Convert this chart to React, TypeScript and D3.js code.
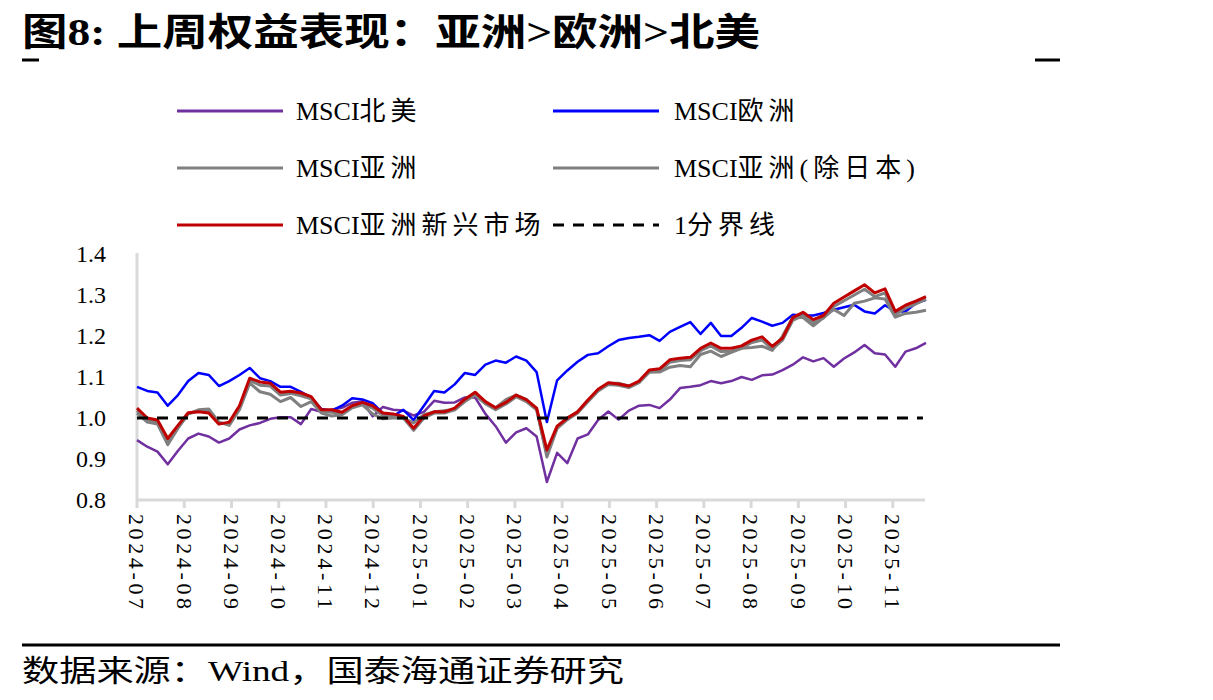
import React, { useEffect, useRef } from 'react';
import * as d3 from 'd3';

// month labels on the category axis (one label every ~21 trading days)
const monthLabels = [
  '2024-07', '2024-08', '2024-09', '2024-10', '2024-11', '2024-12',
  '2025-01', '2025-02', '2025-03', '2025-04', '2025-05', '2025-06',
  '2025-07', '2025-08', '2025-09', '2025-10', '2025-11'
];
// samples per month label
const samplesPerLabel = 4.61;

// weekly-ish samples (78 points)
const northAmerica = [
  0.946, 0.93, 0.918, 0.887, 0.92, 0.95, 0.962, 0.955, 0.94, 0.95,
  0.972, 0.982, 0.988, 0.998, 1.002, 1.002, 0.985, 1.022, 1.015, 1.02,
  1.025, 1.037, 1.04, 1.004, 1.027, 1.02, 1.018, 1.006, 1.015, 1.042,
  1.037, 1.038, 1.05, 1.05, 1.01, 0.98, 0.94, 0.965, 0.975, 0.955,
  0.844, 0.915, 0.89, 0.95, 0.96, 0.995, 1.016, 0.996, 1.018, 1.03,
  1.032, 1.024, 1.045, 1.073, 1.076, 1.08, 1.09, 1.085, 1.09, 1.1,
  1.093, 1.104, 1.106, 1.117, 1.13, 1.148, 1.138, 1.146, 1.125, 1.145,
  1.16, 1.178, 1.158, 1.155, 1.125, 1.162, 1.17, 1.183
];
const europe = [
  1.076, 1.066, 1.062, 1.03, 1.056, 1.09, 1.11, 1.105, 1.078, 1.09,
  1.105, 1.122, 1.097, 1.09, 1.076, 1.076, 1.064, 1.05, 1.022, 1.018,
  1.03, 1.048, 1.045, 1.036, 1.012, 1.005, 1.02, 0.995, 1.03, 1.066,
  1.062, 1.082, 1.11, 1.105, 1.13, 1.14, 1.135, 1.15, 1.14, 1.112,
  0.99, 1.092, 1.116, 1.137, 1.154, 1.158, 1.175, 1.19, 1.195, 1.198,
  1.202, 1.188, 1.21, 1.222, 1.234, 1.205, 1.232, 1.2, 1.2, 1.22,
  1.244, 1.235, 1.225, 1.232, 1.252, 1.25, 1.25, 1.256, 1.264, 1.27,
  1.276, 1.26, 1.255, 1.275, 1.26, 1.26, 1.28, 1.288
];
const asia = [
  1.012, 0.99, 0.985, 0.935, 0.975, 1.01, 1.02, 1.022, 0.99, 0.982,
  1.02, 1.085, 1.064, 1.058, 1.04, 1.05, 1.028, 1.04, 1.012, 1.005,
  1.008, 1.025, 1.032, 1.01, 0.998, 1.0, 1.0, 0.988, 1.008, 1.015,
  1.018, 1.02, 1.04, 1.056, 1.035, 1.025, 1.045, 1.056, 1.045, 1.022,
  0.905, 0.975, 1.0, 1.015, 1.04, 1.068, 1.085, 1.085, 1.078, 1.088,
  1.112, 1.112, 1.124, 1.128, 1.125, 1.155, 1.163, 1.15, 1.16, 1.17,
  1.172, 1.175, 1.165, 1.2, 1.246, 1.245, 1.225, 1.245, 1.265, 1.25,
  1.28, 1.285, 1.293, 1.29, 1.246, 1.255, 1.258, 1.263
];
const asiaExJapan = [
  1.018, 0.995, 0.99, 0.94, 0.976, 1.01, 1.017, 1.015, 0.988, 0.986,
  1.025, 1.092, 1.08, 1.078, 1.056, 1.06, 1.054, 1.047, 1.016, 1.014,
  1.01, 1.026, 1.034, 1.024, 1.006, 1.005, 1.0, 0.97, 1.0, 1.012,
  1.012, 1.02, 1.042, 1.058, 1.035, 1.02, 1.034, 1.052, 1.04, 1.02,
  0.912, 0.975, 0.996, 1.012, 1.04, 1.066, 1.082, 1.08, 1.074, 1.086,
  1.112, 1.114, 1.136, 1.14, 1.142, 1.164, 1.176, 1.162, 1.163, 1.17,
  1.184, 1.19, 1.168, 1.19, 1.238, 1.25, 1.232, 1.244, 1.272, 1.286,
  1.3, 1.314, 1.296, 1.305, 1.252, 1.268, 1.278, 1.29
];
const asiaEM = [
  1.024, 1.0, 0.995, 0.95, 0.982, 1.013, 1.015, 1.012, 0.985, 0.99,
  1.03, 1.097, 1.088, 1.085, 1.063, 1.065, 1.061, 1.052, 1.02, 1.02,
  1.014, 1.03, 1.038, 1.03, 1.012, 1.01, 1.004, 0.975, 1.005, 1.015,
  1.015, 1.024, 1.046, 1.063, 1.04, 1.025, 1.038, 1.056, 1.045, 1.024,
  0.922, 0.98, 1.0, 1.015, 1.044, 1.07, 1.086, 1.083, 1.078, 1.09,
  1.117, 1.12, 1.142, 1.146, 1.148, 1.17, 1.183, 1.17, 1.17, 1.176,
  1.19, 1.198, 1.175, 1.195, 1.245, 1.258, 1.24, 1.25, 1.28, 1.295,
  1.31, 1.325, 1.305, 1.315, 1.26, 1.275, 1.285, 1.296
];
const dividerValue = 1.0;
const yTicks = [0.8, 0.9, 1.0, 1.1, 1.2, 1.3, 1.4];

// legend names split into latin prefix + rest
const seriesPrefix = ['MSCI', 'MSCI', 'MSCI', 'MSCI', 'MSCI', '1'];
const seriesRest = ['北美', '欧洲', '亚洲', '亚洲(除日本)', '亚洲新兴市场', '分界线'];

const SERIF = '"Times New Roman", "Liberation Serif", "Noto Sans CJK SC", serif';

export default function App() {
  const ref = useRef<SVGSVGElement>(null);

  useEffect(() => {
    const svg = d3.select(ref.current);
    svg.selectAll('*').remove();

    const n = asiaEM.length;
    const x = d3.scaleLinear().domain([0, n - 1]).range([137, 926]);
    const y = d3.scaleLinear().domain([0.8, 1.4]).range([500, 254]);

    // title
    svg.append('text')
      .attr('x', 22).attr('y', 45)
      .attr('font-family', SERIF).attr('font-weight', 'bold')
      .attr('font-size', 38)
      .attr('textLength', 738).attr('lengthAdjust', 'spacingAndGlyphs')
      .text('图8:  上周权益表现：亚洲>欧洲>北美');

    svg.append('line').attr('x1', 22).attr('x2', 39).attr('y1', 60).attr('y2', 60)
      .attr('stroke', '#000').attr('stroke-width', 3);
    svg.append('line').attr('x1', 1035).attr('x2', 1060).attr('y1', 60).attr('y2', 60)
      .attr('stroke', '#000').attr('stroke-width', 3);

    // legend
    const colors = ['#7030A0', '#0000FF', '#808080', '#7F7F7F', '#C00000', '#000000'];
    const legendPos = [
      { lx: 177, tx: 296, cy: 111 },
      { lx: 553, tx: 674, cy: 111 },
      { lx: 177, tx: 296, cy: 168 },
      { lx: 553, tx: 674, cy: 168 },
      { lx: 177, tx: 296, cy: 225 },
      { lx: 553, tx: 674, cy: 225 }
    ];
    const lg = svg.append('g');
    seriesRest.forEach((name, i) => {
      const p = legendPos[i];
      lg.append('line')
        .attr('x1', p.lx).attr('x2', p.lx + 106).attr('y1', p.cy).attr('y2', p.cy)
        .attr('stroke', colors[i]).attr('stroke-width', 3)
        .attr('stroke-dasharray', i === 5 ? '11,9' : null);
      const t = lg.append('text')
        .attr('x', p.tx).attr('y', p.cy + 9)
        .attr('font-family', SERIF).attr('font-size', 26);
      t.append('tspan').text(seriesPrefix[i]);
      t.append('tspan').attr('letter-spacing', 5).text(name);
    });

    // axes
    const axisColor = '#D9D9D9';
    svg.append('line').attr('x1', 137).attr('x2', 137).attr('y1', 253).attr('y2', 500)
      .attr('stroke', axisColor).attr('stroke-width', 3);
    svg.append('line').attr('x1', 136).attr('x2', 925).attr('y1', 500).attr('y2', 500)
      .attr('stroke', axisColor).attr('stroke-width', 3);

    svg.selectAll('.ytick').data(yTicks).enter().append('text')
      .attr('class', 'ytick')
      .attr('x', 106).attr('y', d => y(d) + 8)
      .attr('text-anchor', 'end')
      .attr('font-family', SERIF).attr('font-size', 24)
      .text(d => d.toFixed(1));

    const xt = svg.selectAll('.xtick').data(monthLabels).enter().append('g')
      .attr('class', 'xtick')
      .attr('transform', (d, i) => `translate(${x(i * samplesPerLabel)},0)`);
    xt.append('line').attr('y1', 500).attr('y2', 508)
      .attr('stroke', axisColor).attr('stroke-width', 3);
    xt.append('text')
      .attr('transform', 'translate(0,514) rotate(90)')
      .attr('dy', '0.35em')
      .attr('font-family', SERIF).attr('font-size', 22)
      .attr('textLength', 95).attr('lengthAdjust', 'spacing')
      .text(d => d);

    // lines
    const line = d3.line<number>().x((d, i) => x(i)).y(d => y(d));
    const series = [northAmerica, europe, asia, asiaExJapan, asiaEM];
    const widths = [2.5, 2.5, 3, 3, 3];
    series.forEach((s, i) => {
      svg.append('path').datum(s)
        .attr('d', line)
        .attr('fill', 'none')
        .attr('stroke', colors[i])
        .attr('stroke-width', widths[i])
        .attr('stroke-linejoin', 'round');
    });

    svg.append('line')
      .attr('x1', x(0)).attr('x2', x(n - 1.3))
      .attr('y1', y(dividerValue)).attr('y2', y(dividerValue))
      .attr('stroke', '#000').attr('stroke-width', 3)
      .attr('stroke-dasharray', '11,9');

    // footer
    svg.append('line').attr('x1', 22).attr('x2', 1060).attr('y1', 645).attr('y2', 645)
      .attr('stroke', '#000').attr('stroke-width', 3);
    svg.append('text')
      .attr('x', 22).attr('y', 681)
      .attr('font-family', SERIF).attr('font-size', 30)
      .attr('textLength', 602).attr('lengthAdjust', 'spacingAndGlyphs')
      .text('数据来源：Wind，国泰海通证券研究');
  }, []);

  return (
    <svg ref={ref} width={1213} height={700}
      style={{ position: 'absolute', left: 0, top: 0, background: '#fff' }} />
  );
}
